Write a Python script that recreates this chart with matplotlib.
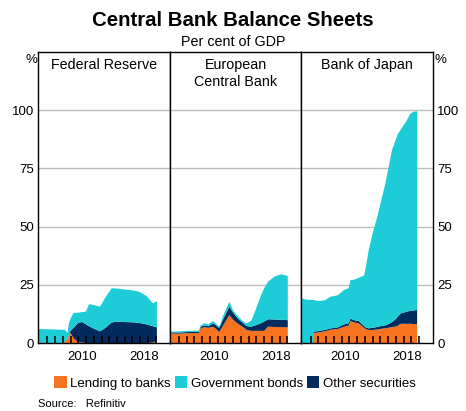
import matplotlib
matplotlib.use("Agg")
import matplotlib.pyplot as plt
import matplotlib.patches as mpatches

plt.rcParams["font.family"] = ["Liberation Sans", "DejaVu Sans"]

# ---------------------------------------------------------
# Data (per cent of GDP)
# ---------------------------------------------------------
fed_years = [2004.8, 2006, 2007, 2008, 2008.3, 2008.6, 2008.8, 2009.0, 2009.4,
             2010.0, 2010.5, 2011.0, 2011.4, 2012.0, 2012.8, 2013.5, 2014.3,
             2015.0, 2016.0, 2017.0, 2017.9, 2018.8, 2019.65, 2020.15]
fed_lending = [0, 0, 0, 0, 0.5, 2.0, 3.5, 4.3, 2.0,
               0.4, 0.2, 0, 0, 0, 0, 0, 0,
               0, 0, 0, 0, 0, 0.2, 1.0]
fed_other = [0, 0, 0, 0, 0, 0, 0, 1.0, 4.5,
             8.3, 8.8, 8.0, 7.2, 6.2, 5.0, 6.5, 8.8,
             9.2, 9.0, 8.9, 8.6, 8.0, 7.0, 5.7]
fed_govt = [6.0, 5.9, 5.8, 5.7, 5.1, 2.3, 5.0, 5.2, 6.4,
            4.3, 4.3, 5.5, 9.5, 10.1, 10.6, 13.0, 14.7,
            14.2, 14.0, 13.7, 13.4, 12.2, 9.8, 11.3]

ecb_years = [2004.8, 2006, 2007, 2008, 2008.6, 2008.8, 2009.3, 2009.8, 2010.4,
             2010.8, 2011.2, 2011.8, 2012.5, 2013.0, 2013.6, 2014.2, 2014.7,
             2015.3, 2015.7, 2016.2, 2016.6, 2017.0, 2017.5, 2018.3, 2019.2,
             2020.05]
ecb_lending = [4.1, 4.0, 4.2, 4.3, 4.2, 6.3, 6.8, 6.5, 7.0,
               6.0, 4.7, 8.0, 12.0, 10.0, 8.3, 7.0, 5.7,
               5.2, 5.2, 5.2, 5.2, 5.2, 7.0, 6.9, 6.8,
               6.7]
ecb_other = [0.5, 0.5, 0.5, 0.5, 0.5, 0.7, 0.7, 0.7, 1.5,
             1.6, 1.8, 2.8, 3.6, 3.0, 2.2, 1.8, 1.6,
             1.8, 2.2, 2.8, 3.3, 4.0, 3.2, 3.2, 3.2,
             3.1]
ecb_govt = [0.2, 0.5, 0.5, 0.5, 0.6, 0.5, 1.0, 0.8, 1.0,
            0.7, 0.5, 1.7, 2.1, 1.0, 1.0, 0.7, 1.1,
            2.4, 5.1, 8.9, 12.0, 14.3, 16.1, 18.4, 19.5,
            19.0]

boj_years = [2004.8, 2005.5, 2006.3, 2006.35, 2007.0, 2007.8, 2008.6, 2009.5,
             2010.3, 2010.9, 2011.15, 2011.6, 2012.2, 2012.9, 2013.1, 2013.5,
             2014.0, 2014.6, 2015.1, 2015.65, 2016.1, 2016.5, 2016.9, 2017.2,
             2017.6, 2018.0, 2018.4, 2018.9, 2019.3, 2019.75]
boj_lending = [0, 0, 0, 4.3, 4.5, 5.0, 5.7, 6.0,
               7.0, 7.5, 9.5, 8.8, 8.5, 6.5, 6.0, 5.6,
               5.6, 5.8, 6.1, 6.3, 6.6, 6.8, 7.0, 7.3,
               8.2, 8.3, 8.2, 8.3, 8.1, 8.0]
boj_other = [0, 0, 0, 0.6, 0.6, 0.6, 0.6, 0.7,
             1.0, 1.0, 1.0, 1.0, 1.0, 0.8, 0.7, 0.7,
             0.9, 1.1, 1.2, 1.3, 1.6, 2.2, 3.0, 3.8,
             4.5, 4.8, 5.2, 5.6, 5.9, 6.2]
boj_govt = [19.2, 18.6, 18.5, 13.6, 12.9, 12.7, 13.6, 13.8,
            14.7, 15.0, 16.5, 17.4, 18.5, 21.7, 25.3, 33.6,
            40.5, 47.3, 53.7, 60.9, 67.8, 73.8, 76.5, 78.2,
            78.8, 80.5, 82.1, 84.7, 85.3, 85.4]

panel_titles = ["Federal Reserve", "European\nCentral Bank", "Bank of Japan"]
series_names = ["Lending to banks", "Government bonds", "Other securities"]
y_ticks = [0, 25, 50, 75, 100]
year_ticks = list(range(2006, 2021))
label_pos = [2010.5, 2018.5]
label_text = ["2010", "2018"]

# ---------------------------------------------------------
# Styling
# ---------------------------------------------------------
ORANGE = "#F8731F"
CYAN = "#1CCCD6"
NAVY = "#002B5C"
GRID = "#BDBDBD"

panels = [
    (fed_years, fed_lending, fed_other, fed_govt),
    (ecb_years, ecb_lending, ecb_other, ecb_govt),
    (boj_years, boj_lending, boj_other, boj_govt),
]

fig, axes = plt.subplots(1, 3, figsize=(4.66, 4.11), dpi=100, sharey=True)
fig.subplots_adjust(left=38 / 466, right=433 / 466,
                    bottom=1 - 343 / 411, top=1 - 52 / 411, wspace=0)

for i, (ax, (yrs, lend, other, govt)) in enumerate(zip(axes, panels)):
    # gridlines sit behind the areas
    for yt in y_ticks[1:]:
        ax.axhline(yt, color=GRID, linewidth=1.0, zorder=0.5)
    ax.stackplot(yrs, lend, other, govt,
                 colors=[ORANGE, NAVY, CYAN], linewidth=0, zorder=1)

    # year tick marks drawn on top of the areas (inward, at year starts)
    ax.vlines(year_ticks, 0, 3.2, colors="black", linewidth=1.1, zorder=4)

    ax.set_xlim(2004.8, 2021.8)
    ax.set_ylim(0, 125)
    ax.set_yticks(y_ticks)

    # Year labels centred in the year
    ax.set_xticks(label_pos, labels=label_text)
    ax.tick_params(axis="x", length=0, pad=6, labelsize=9.5)
    ax.tick_params(axis="y", length=0, labelsize=9.5, pad=3,
                   left=False, right=False,
                   labelleft=(i == 0), labelright=(i == 2))

    for sp in ax.spines.values():
        sp.set_color("black")
        sp.set_linewidth(1.0)
        sp.set_zorder(5)

    ax.text(0.5, 0.978, panel_titles[i], transform=ax.transAxes,
            ha="center", va="top", fontsize=10.3, linespacing=1.25)

# % labels at the top of each value axis
fig.text(31 / 466, 1 - 60 / 411, "%", ha="center", va="center", fontsize=9.5)
fig.text(440 / 466, 1 - 60 / 411, "%", ha="center", va="center", fontsize=9.5)

fig.text(0.5, 1 - 20 / 411, "Central Bank Balance Sheets",
         ha="center", va="center", fontsize=14.7, fontweight="bold")
fig.text(0.5, 1 - 42 / 411, "Per cent of GDP",
         ha="center", va="center", fontsize=10.3)

handles = [mpatches.Patch(facecolor=c, edgecolor="none")
           for c in (ORANGE, CYAN, NAVY)]
fig.legend(handles, series_names, loc="center",
           bbox_to_anchor=(235 / 466, 1 - 383 / 411), ncol=3, frameon=False,
           fontsize=9.5, handlelength=0.95, handleheight=0.95,
           handletextpad=0.25, columnspacing=0.3, borderaxespad=0)

fig.text(38 / 466, 1 - 404 / 411, "Source:   Refinitiv",
         ha="left", va="center", fontsize=8)

fig.savefig("out.png", dpi=100)
